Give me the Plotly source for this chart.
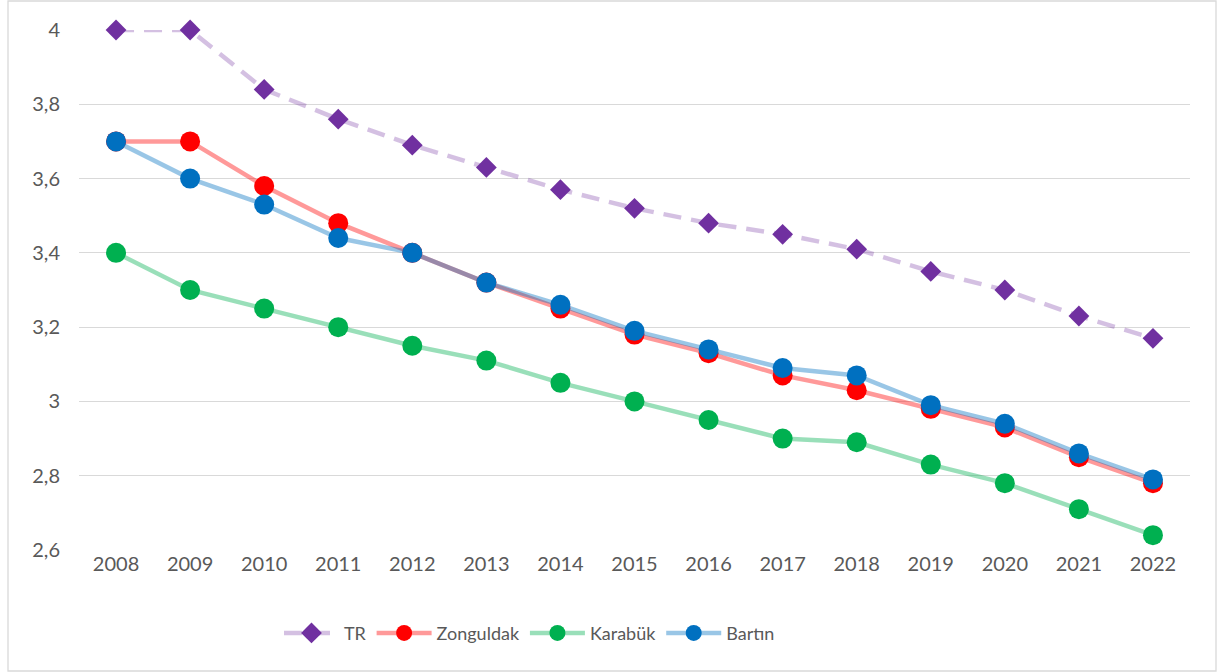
import plotly.graph_objects as go

years = [str(y) for y in range(2008, 2023)]
tr = [4.00, 4.00, 3.84, 3.76, 3.69, 3.63, 3.57, 3.52, 3.48, 3.45, 3.41, 3.35, 3.30, 3.23, 3.17]
zonguldak = [3.70, 3.70, 3.58, 3.48, 3.40, 3.32, 3.25, 3.18, 3.13, 3.07, 3.03, 2.98, 2.93, 2.85, 2.78]
karabuk = [3.40, 3.30, 3.25, 3.20, 3.15, 3.11, 3.05, 3.00, 2.95, 2.90, 2.89, 2.83, 2.78, 2.71, 2.64]
bartin = [3.70, 3.60, 3.53, 3.44, 3.40, 3.32, 3.26, 3.19, 3.14, 3.09, 3.07, 2.99, 2.94, 2.86, 2.79]
y_ticks = [2.6, 2.8, 3.0, 3.2, 3.4, 3.6, 3.8, 4.0]

fig = go.Figure()
fig.add_trace(go.Scatter(x=years, y=tr, name="TR", mode="lines+markers",
                         line=dict(color="rgba(112,48,160,0.3)", width=4.5, dash="18px,10px"),
                         marker=dict(symbol="diamond", size=16, color="#7030A0")))
fig.add_trace(go.Scatter(x=years, y=zonguldak, name="Zonguldak", mode="lines+markers",
                         line=dict(color="rgba(255,0,0,0.4)", width=4.5),
                         marker=dict(symbol="circle", size=20, color="#FF0000")))
fig.add_trace(go.Scatter(x=years, y=karabuk, name="Karabük", mode="lines+markers",
                         line=dict(color="rgba(0,176,80,0.4)", width=4.5),
                         marker=dict(symbol="circle", size=20, color="#00B050")))
fig.add_trace(go.Scatter(x=years, y=bartin, name="Bartın", mode="lines+markers",
                         line=dict(color="rgba(0,112,192,0.4)", width=4.5),
                         marker=dict(symbol="circle", size=20, color="#0070C0")))

fig.update_layout(
    width=1219, height=672,
    margin=dict(l=79, r=29, t=30, b=122),
    paper_bgcolor="white", plot_bgcolor="white",
    separators=", ",
    font=dict(family="Lato, Open Sans, sans-serif", size=20, color="#595959"),
    showlegend=True,
    legend=dict(orientation="h", x=0.18, xanchor="left", y=-0.16, yanchor="middle",
                font=dict(size=18, color="#595959"), itemwidth=55),
    xaxis=dict(type="category", range=[-0.5, 14.5], showgrid=False, showline=False,
               ticks="", automargin=False, tickfont=dict(size=20, color="#595959")),
    yaxis=dict(range=[2.6, 4.0], tickvals=y_ticks, showgrid=True, gridcolor="#D9D9D9",
               gridwidth=1.3, zeroline=False, showline=False, ticks="",
               automargin=False, tickfont=dict(size=20, color="#595959"),
               ticklabelstandoff=18),
    shapes=[dict(type="rect", xref="paper", yref="paper",
                 x0=-0.0639, x1=1.0234, y0=-0.2327, y1=1.0558,
                 line=dict(color="#D9D9D9", width=1.3), layer="below")],
)
fig.update_traces(cliponaxis=False)

fig.write_html("out.html", config={"displayModeBar": False},
               post_script="document.body.style.margin='0';document.body.style.padding='0';")
